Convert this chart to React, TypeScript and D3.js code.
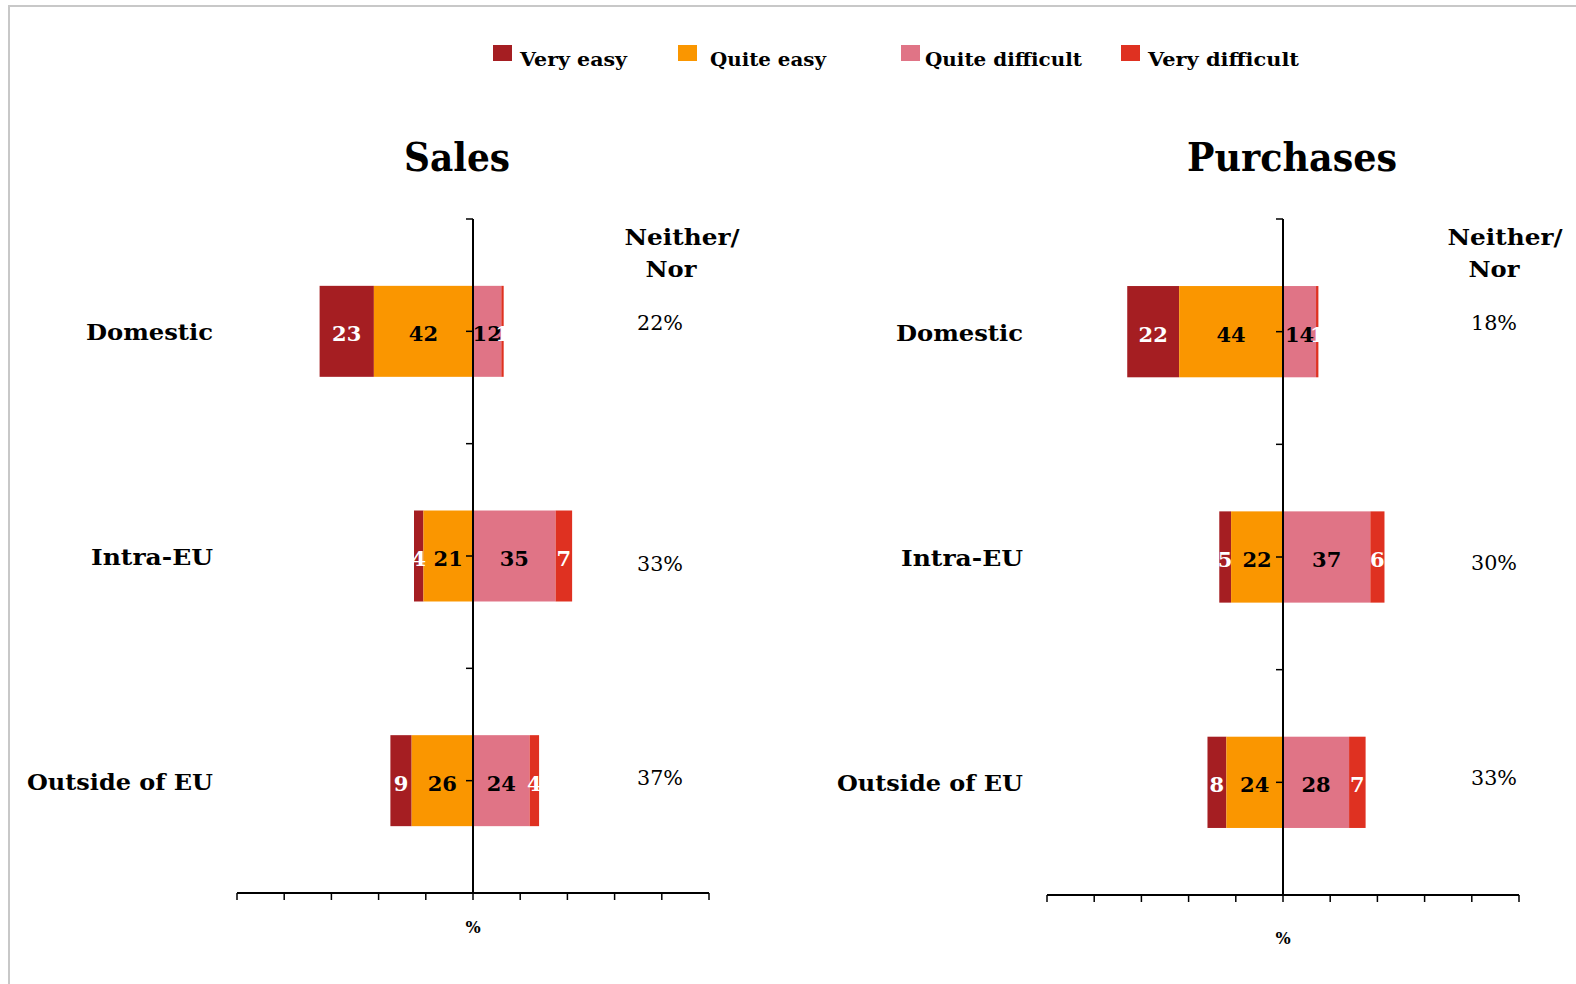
import React from "react";
import * as d3 from "d3";

const categories = ["Domestic", "Intra-EU", "Outside of EU"];
const seriesNames = ["Very easy", "Quite easy", "Quite difficult", "Very difficult"];
const seriesColors = ["#A51E22", "#FA9600", "#E07486", "#DF3121"];
const labelColors = ["#ffffff", "#000000", "#000000", "#ffffff"];

const salesVeryEasy = [23, 4, 9];
const salesQuiteEasy = [42, 21, 26];
const salesQuiteDifficult = [12, 35, 24];
const salesVeryDifficult = [1, 7, 4];
const salesNeither = [22, 33, 37];

const purchVeryEasy = [22, 5, 8];
const purchQuiteEasy = [44, 22, 24];
const purchQuiteDifficult = [14, 37, 28];
const purchVeryDifficult = [1, 6, 7];
const purchNeither = [18, 30, 33];

const xTicks = d3.range(-100, 101, 20);

const SERIF = "'DejaVu Serif', Georgia, serif";

type PanelProps = {
  title: string;
  titleX: number;
  titleW: number;
  x0: number;
  x1: number;
  yTop: number;
  yBot: number;
  labelRight: number;
  neitherX: number;
  pctX: number;
  pctNudge: number[];
  pctLabelY: number;
  ve: number[];
  qe: number[];
  qd: number[];
  vd: number[];
  neither: number[];
};

function Panel(p: PanelProps) {
  const x = d3.scaleLinear().domain([-100, 100]).range([p.x0, p.x1]);
  const y = d3
    .scaleBand<string>()
    .domain(categories)
    .range([p.yTop, p.yBot])
    .paddingInner(0.595)
    .paddingOuter(0.2975);
  const cx = x(0);
  const step = y.step();
  const catWidths: Record<string, number> = { Domestic: 127, "Intra-EU": 122, "Outside of EU": 186 };

  return (
    <g>
      <text x={p.titleX} y={171} textAnchor="middle" fontFamily={SERIF} fontWeight="bold" fontSize={40}
        textLength={p.titleW} lengthAdjust="spacingAndGlyphs">{p.title}</text>
      <text x={p.neitherX} y={245} textAnchor="middle" fontFamily={SERIF} fontWeight="bold" fontSize={23}
        textLength={115} lengthAdjust="spacingAndGlyphs">Neither/</text>
      <text x={p.neitherX - 11} y={277} textAnchor="middle" fontFamily={SERIF} fontWeight="bold" fontSize={23}
        textLength={51} lengthAdjust="spacingAndGlyphs">Nor</text>
      {categories.map((c, i) => {
        const vals = [p.ve[i], p.qe[i], p.qd[i], p.vd[i]];
        const starts = [
          -(p.ve[i] + p.qe[i]),
          -p.qe[i],
          0,
          p.qd[i],
        ];
        const by = y(c)!;
        const bh = y.bandwidth();
        const mid = by + bh / 2;
        return (
          <g key={c}>
            <text x={p.labelRight} y={mid + 9} textAnchor="end" fontFamily={SERIF} fontWeight="bold" fontSize={23}
              textLength={catWidths[c]} lengthAdjust="spacingAndGlyphs">{c}</text>
            {vals.map((v, k) => (
              <rect key={k} x={x(starts[k])} y={by} width={x(starts[k] + v) - x(starts[k])} height={bh}
                fill={seriesColors[k]} />
            ))}
            <line x1={cx - 7} x2={cx} y1={mid} y2={mid} stroke="#000" strokeWidth={1.5} />
            {vals.map((v, k) => (
              <text key={"l" + k} x={(x(starts[k]) + x(starts[k] + v)) / 2} y={mid + 10} textAnchor="middle"
                fontFamily={SERIF} fontWeight="bold" fontSize={21} fill={labelColors[k]}>{v}</text>
            ))}
            <text x={p.pctX} y={mid + 8 + p.pctNudge[i]} textAnchor="middle" fontFamily={SERIF} fontSize={21}
              textLength={46} lengthAdjust="spacingAndGlyphs">{p.neither[i] + "%"}</text>
          </g>
        );
      })}
      {/* vertical axis */}
      <line x1={cx} x2={cx} y1={p.yTop} y2={p.yBot} stroke="#000" strokeWidth={2} />
      {d3.range(0, categories.length).map((i) => (
        <line key={"yt" + i} x1={cx - 7} x2={cx} y1={p.yTop + i * step} y2={p.yTop + i * step}
          stroke="#000" strokeWidth={1.5} />
      ))}
      {/* horizontal axis */}
      <line x1={p.x0} x2={p.x1} y1={p.yBot} y2={p.yBot} stroke="#000" strokeWidth={2} />
      {xTicks.map((t) => (
        <line key={"xt" + t} x1={x(t)} x2={x(t)} y1={p.yBot} y2={p.yBot + 7} stroke="#000" strokeWidth={1.5} />
      ))}
      <text x={cx} y={p.pctLabelY} textAnchor="middle" fontFamily={SERIF} fontWeight="bold" fontSize={16}>%</text>
    </g>
  );
}

export default function App() {
  const legendSquareX = [493, 678, 901, 1121];
  const legendTextW = [107, 116, 157, 151];
  return (
    <svg width={1576} height={984} style={{ position: "absolute", left: 0, top: 0, background: "#fff" }}>
      <rect x={9} y={6} width={1600} height={1000} fill="#fff" stroke="#c8c8c8" strokeWidth={2} />
      {seriesNames.map((s, k) => (
        <g key={s}>
          <rect x={legendSquareX[k]} y={45} width={19} height={16} fill={seriesColors[k]} />
          <text x={legendSquareX[k] + (k === 2 ? 24 : k === 1 ? 32 : 27)} y={66} fontFamily={SERIF}
            fontWeight="bold" fontSize={19} textLength={legendTextW[k]} lengthAdjust="spacingAndGlyphs">{s}</text>
        </g>
      ))}
      <Panel title="Sales" titleX={457} titleW={106} x0={237} x1={709} yTop={219} yBot={893}
        labelRight={213} neitherX={682} pctX={660} pctNudge={[-9, 7, -4]} pctLabelY={933}
        ve={salesVeryEasy} qe={salesQuiteEasy} qd={salesQuiteDifficult} vd={salesVeryDifficult}
        neither={salesNeither} />
      <Panel title="Purchases" titleX={1292} titleW={210} x0={1047} x1={1519} yTop={219} yBot={895}
        labelRight={1023} neitherX={1505} pctX={1494} pctNudge={[-10, 5, -5]} pctLabelY={944}
        ve={purchVeryEasy} qe={purchQuiteEasy} qd={purchQuiteDifficult} vd={purchVeryDifficult}
        neither={purchNeither} />
    </svg>
  );
}
